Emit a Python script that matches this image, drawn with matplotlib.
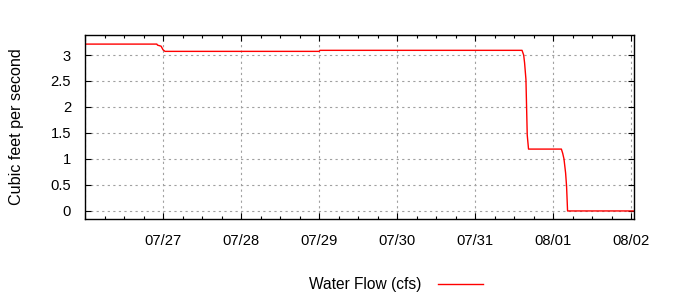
import numpy as np
import matplotlib
matplotlib.use('Agg')
import matplotlib.pyplot as plt
import matplotlib.dates as mdates

plt.rcParams['font.family'] = ['Liberation Sans', 'DejaVu Sans']

start = np.datetime64('2012-07-26T00:00')
# hours since 07/26 00:00 and flow values
hours = [0, 22.1, 22.3, 23.4, 24.0, 24.6, 72.0, 72.25, 134.4, 134.9, 135.2,
         135.6, 135.8, 136.0, 136.4, 146.5, 146.9, 147.3, 147.8, 148.1,
         148.3, 148.4, 168.6]
flow = [3.21, 3.21, 3.19, 3.17, 3.10, 3.07, 3.07, 3.09, 3.09, 3.00, 2.85,
        2.53, 2.00, 1.46, 1.19, 1.19, 1.11, 1.00, 0.73, 0.47,
        0.16, 0.0, 0.0]
yticks = [0, 0.5, 1, 1.5, 2, 2.5, 3]
yticklabels = ['0', '0.5', '1', '1.5', '2', '2.5', '3']

times = [(start + np.timedelta64(int(h * 60), 'm')).astype(object) for h in hours]

fig = plt.figure(figsize=(7, 3), dpi=100)
ax = fig.add_axes([85/700, 1-219/300, (634-85)/700, (219-35)/300])
ax.plot(times, flow, color='red', lw=1.0, label='Water Flow (cfs)')

ax.set_xlim(start.astype(object), (start + np.timedelta64(int(7.035*24*60), 'm')).astype(object))
ax.set_ylim(-0.155, 3.385)
ax.set_yticks(yticks)
ax.set_yticklabels(yticklabels)
ax.xaxis.set_major_locator(mdates.DayLocator())
ax.xaxis.set_minor_locator(mdates.HourLocator(byhour=[6, 12, 18]))
ax.xaxis.set_major_formatter(mdates.DateFormatter('%m/%d'))

ax.tick_params(which='both', direction='in', top=True, right=True, labelsize=10.6, width=0.8)
ax.tick_params(which='major', length=4.5)
ax.tick_params(which='minor', length=2.5)
ax.tick_params(axis='x', which='major', pad=11)
ax.tick_params(axis='y', which='major', pad=10)
ax.grid(True, which='major', color='#a0a0a0', linestyle=(0, (2, 3)), lw=0.8)
for s in ax.spines.values():
    s.set_linewidth(1.0)

# hide the first day tick label (07/26 at the left edge)
fig.canvas.draw()
for t in ax.get_xticklabels():
    if t.get_text() == '07/26':
        t.set_visible(False)

ax.set_ylabel('Cubic feet per second', fontsize=11.6, labelpad=19)
ax.legend(loc='center', bbox_to_anchor=(396/700, 0.05), bbox_transform=fig.transFigure,
          frameon=False, markerfirst=False, handlelength=2.9, handletextpad=1.1,
          fontsize=11.2)

fig.savefig('out.png', dpi=100)
